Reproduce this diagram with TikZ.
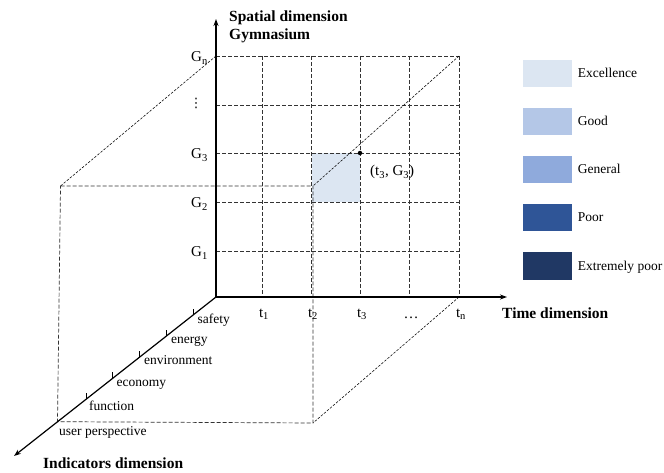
\documentclass[tikz,border=0pt]{standalone}
\usepackage{fontspec}
\setmainfont{Liberation Serif}
\newfontfamily\symfnt{DejaVu Sans}
\usetikzlibrary{arrows.meta}
\definecolor{cExc}{HTML}{DCE6F2}
\definecolor{cGood}{HTML}{B4C7E7}
\definecolor{cGen}{HTML}{8FAADC}
\definecolor{cPoor}{HTML}{2F5597}
\definecolor{cExt}{HTML}{203864}
\begin{document}
\begin{tikzpicture}[x=1pt,y=-1pt,
  axis/.style={line width=1.2pt,-{Stealth[length=7pt,width=5pt]}},
  gridline/.style={dash pattern=on 4pt off 2pt,line width=0.7pt,black!80},
  diag/.style={dash pattern=on 2.5pt off 1.5pt,line width=0.55pt,black},
  tickmark/.style={line width=0.6pt},
  lbl/.style={font=\fontsize{15}{15}\selectfont,inner sep=0pt},
  ind/.style={font=\fontsize{13.5}{13.5}\selectfont,anchor=base west,inner sep=0pt},
  boldlbl/.style={font=\fontsize{15.5}{16}\selectfont\bfseries,anchor=base west,inner sep=0pt},
  legbox/.style={minimum width=49pt,minimum height=27pt,inner sep=0pt,draw=none},
  legtxt/.style={font=\fontsize{13.5}{13.5}\selectfont,anchor=base west,inner sep=0pt}]
\useasboundingbox (0,0) rectangle (664,473);
% key points
\coordinate (O) at (216,297);
\coordinate (Ytop) at (216,19);
\coordinate (Xend) at (507,297);
\coordinate (Zend) at (14,456);
\coordinate (Gn) at (216,56);
\coordinate (TnGn) at (459,56);
\coordinate (Tn) at (459,297);
\coordinate (FTL) at (60.5,186);
\coordinate (FTR) at (313,186);
\coordinate (FBR) at (313,423);
\coordinate (FBL) at (57.5,421.7);
% highlighted cell
\fill[cExc] (311.5,153) rectangle (360,202);
% grid
\foreach \x in {262,311,360,409,459} \draw[gridline] (\x,56) -- (\x,297);
\foreach \y in {56,105,153,202,251} \draw[gridline] (216,\y) -- (459,\y);
% box
\draw[gridline] (FTL) -- (FTR) -- (FBR) -- (FBL) -- (FTL);
\draw[diag] (Gn) -- (FTL);
\draw[diag] (TnGn) -- (FTR);
\draw[diag] (Tn) -- (FBR);
% axes
\draw[axis] (O) -- (Ytop);
\draw[axis] (O) -- (Xend);
\draw[axis] (O) -- (Zend);
% ticks on indicator axis
\foreach \x/\y in {86/399.2,112.7/378.3,139.5/357.2,166.2/336.2,192.8/315.3}
  \draw[tickmark] (\x,\y) -- (\x,\y-6);
% point
\node[circle,fill=black,inner sep=0pt,minimum size=4.5pt] (P) at (360,153) {};
\node[lbl,anchor=base west] (Plbl) at (370,176) {(t\textsubscript{3}, G\textsubscript{3})};
% G labels
\node[lbl,anchor=base east] (Gnl) at (208,62) {G\textsubscript{n}};
\node[lbl] (vd) at (196,103) {\symfnt\fontsize{13}{13}\selectfont ⋮};
\node[lbl,anchor=base east] (G3l) at (208,159) {G\textsubscript{3}};
\node[lbl,anchor=base east] (G2l) at (208,208) {G\textsubscript{2}};
\node[lbl,anchor=base east] (G1l) at (208,257) {G\textsubscript{1}};
% t labels
\node[lbl,anchor=base] (t1l) at (264,317) {t\textsubscript{1}};
\node[lbl,anchor=base] (t2l) at (313,317) {t\textsubscript{2}};
\node[lbl,anchor=base] (t3l) at (362,317) {t\textsubscript{3}};
\node[lbl,anchor=base] (tdl) at (411,318) {…};
\node[lbl,anchor=base] (tnl) at (461,317) {t\textsubscript{n}};
% axis titles
\node[boldlbl] (sp1) at (229,22) {Spatial dimension};
\node[boldlbl] (sp2) at (229,40) {Gymnasium};
\node[boldlbl] (tim) at (502,318) {Time dimension};
\node[boldlbl] (indd) at (43,468) {Indicators dimension};
% indicator labels
\node[ind] (i5) at (197.5,323.5) {safety};
\node[ind] (i4) at (171,343.5) {energy};
\node[ind] (i3) at (144,364) {environment};
\node[ind] (i2) at (116.5,386.5) {economy};
\node[ind] (i1) at (89,410) {function};
\node[ind] (i0) at (59,435) {user perspective};
% legend
\node[legbox,fill=cExc] (L1) at (547.2,73.3) {};
\node[legbox,fill=cGood] (L2) at (547.2,121.7) {};
\node[legbox,fill=cGen] (L3) at (547.2,169.3) {};
\node[legbox,fill=cPoor] (L4) at (547.2,217.3) {};
\node[legbox,fill=cExt] (L5) at (547.2,266) {};
\node[legtxt] (T1) at (577.7,77.5) {Excellence};
\node[legtxt] (T2) at (577.7,125.7) {Good};
\node[legtxt] (T3) at (577.7,173.5) {General};
\node[legtxt] (T4) at (577.7,221.5) {Poor};
\node[legtxt] (T5) at (577.7,270) {Extremely poor};
\end{tikzpicture}
\end{document}
